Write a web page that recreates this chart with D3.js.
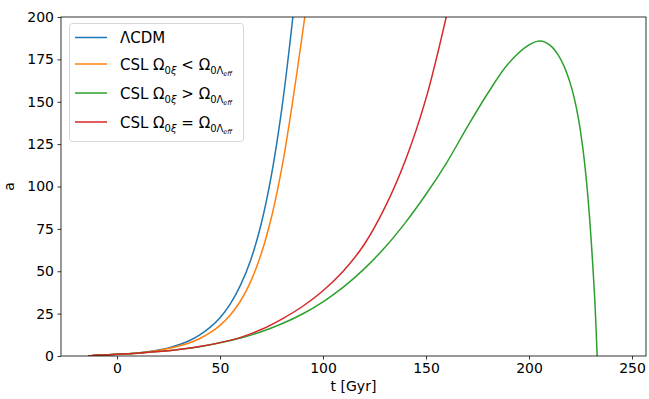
<!DOCTYPE html>
<html>
<head>
<meta charset="utf-8">
<script src="https://cdn.jsdelivr.net/npm/d3@7"></script>
<style>
    body { margin: 0; background: #fff; }
    svg { display: block; font-family: "DejaVu Sans", sans-serif; }
</style>
</head>
<body>
<div id="chart"></div>
<script>
// values (t in Gyr, a = scale factor)
var lcdmT = [-14, -13, -12, -10, -7, -4, 0, 5, 10, 15, 20, 25, 30, 35, 40, 45, 50, 55, 60, 65, 70, 75, 80, 85, 88];
var lcdmA = [0, 0.15, 0.24, 0.4, 0.6, 0.78, 1.0, 1.35, 1.8, 2.5, 3.5, 4.8, 6.6, 9.0, 12.3, 16.7, 22.6, 30.8, 42, 57, 78, 107, 146, 196, 232];

var lessT = [-14, -13, -12, -10, -7, -4, 0, 5, 10, 15, 20, 25, 30, 35, 40, 45, 50, 55, 60, 65, 70, 75, 80, 85, 90, 94];
var lessA = [0, 0.15, 0.24, 0.4, 0.6, 0.78, 1.0, 1.33, 1.75, 2.4, 3.3, 4.4, 5.85, 7.7, 10.2, 13.6, 18.1, 24.2, 32.6, 44.2, 60.3, 82, 111, 148, 190, 225];

var moreT = [-14, -13, -12, -10, -7, -4, 0, 5, 10, 20, 30, 40, 50, 60, 70, 80, 90, 100, 110, 120, 130, 140, 150, 160, 170, 180, 190, 200, 205,
             208, 211, 214, 217, 220, 222, 224, 226, 228, 229.5, 231, 232, 232.6, 233.1];
var moreA = [0, 0.15, 0.24, 0.4, 0.6, 0.78, 1.0, 1.3, 1.65, 2.6, 3.9, 5.5, 7.8, 10.6, 14.3, 19.0, 24.8, 32.0, 40.8, 51.4, 64.0, 78.7, 95.4, 114, 135, 155, 172.5, 183.5, 185.8,
             185, 182.5, 178, 171, 161, 152, 140, 124, 102, 80, 53, 32, 15, 0];

var equalT = [-14, -13, -12, -10, -7, -4, 0, 5, 10, 20, 30, 40, 50, 60, 70, 80, 90, 100, 110, 120, 130, 140, 150, 160, 163];
var equalA = [0, 0.15, 0.24, 0.4, 0.6, 0.78, 1.0, 1.3, 1.65, 2.6, 3.9, 5.6, 7.9, 11, 15.6, 21.8, 29.2, 38.5, 50.3, 65.8, 87.5, 115.5, 152, 201, 218];

var xTicks = [0, 50, 100, 150, 200, 250];
var yTicks = [0, 25, 50, 75, 100, 125, 150, 175, 200];
var colors = ["#1f77b4", "#ff7f0e", "#2ca02c", "#d62728"];

var width = 649,
    height = 399,
    plotLeft = 61,
    plotRight = 646,
    plotTop = 17,
    plotBottom = 356;

var x = d3.scaleLinear().domain([-27.2, 256.8]).range([plotLeft, plotRight]);
var y = d3.scaleLinear().domain([0, 200]).range([plotBottom, plotTop]);

var svg = d3.select("#chart").append("svg")
    .attr("width", width)
    .attr("height", height);

svg.append("defs").append("clipPath").attr("id", "plotclip")
    .append("rect")
    .attr("x", plotLeft).attr("y", plotTop)
    .attr("width", plotRight - plotLeft).attr("height", plotBottom - plotTop);

function pairs(ts, as) {
    return ts.map(function (t, i) { return [t, as[i]]; });
}

var series = [
    pairs(lcdmT, lcdmA),
    pairs(lessT, lessA),
    pairs(moreT, moreA),
    pairs(equalT, equalA)
];

var line = d3.line()
    .x(function (d) { return x(d[0]); })
    .y(function (d) { return y(d[1]); })
    .curve(d3.curveCatmullRom.alpha(0.5));

var plot = svg.append("g").attr("clip-path", "url(#plotclip)");
series.forEach(function (s, i) {
    plot.append("path")
        .attr("d", line(s))
        .attr("fill", "none")
        .attr("stroke", colors[i])
        .attr("stroke-width", 1.5);
});

// axes
var xAxis = svg.append("g")
    .attr("transform", "translate(0," + plotBottom + ")")
    .call(d3.axisBottom(x).tickValues(xTicks).tickSize(3.5).tickPadding(3.5));
var yAxis = svg.append("g")
    .attr("transform", "translate(" + plotLeft + ",0)")
    .call(d3.axisLeft(y).tickValues(yTicks).tickSize(3.5).tickPadding(3.5));

[xAxis, yAxis].forEach(function (ax) {
    ax.select(".domain").remove();
    ax.selectAll("line").attr("stroke", "#000").attr("stroke-width", 0.8);
    ax.selectAll("text")
        .attr("fill", "#000")
        .style("font-family", "'DejaVu Sans', sans-serif")
        .style("font-size", "14px");
});

svg.append("rect")
    .attr("x", plotLeft).attr("y", plotTop)
    .attr("width", plotRight - plotLeft).attr("height", plotBottom - plotTop)
    .attr("fill", "none")
    .attr("stroke", "#000")
    .attr("stroke-width", 0.8);

svg.append("text")
    .attr("x", (plotLeft + plotRight) / 2)
    .attr("y", 391)
    .attr("text-anchor", "middle")
    .style("font-size", "14px")
    .text("t [Gyr]");

svg.append("text")
    .attr("transform", "translate(14," + ((plotTop + plotBottom) / 2) + ") rotate(-90)")
    .attr("text-anchor", "middle")
    .style("font-size", "14px")
    .text("a");

// legend
var legend = svg.append("g");
legend.append("rect")
    .attr("x", 69.5).attr("y", 23.5)
    .attr("width", 174).attr("height", 118)
    .attr("rx", 3)
    .attr("fill", "#fff")
    .attr("fill-opacity", 0.8)
    .attr("stroke", "#d6d6d6");

var rowY = [37.5, 64, 93, 122];
var relations = ["<", ">", "="];

rowY.forEach(function (ry, i) {
    legend.append("line")
        .attr("x1", 75).attr("x2", 107)
        .attr("y1", ry).attr("y2", ry)
        .attr("stroke", colors[i])
        .attr("stroke-width", 1.5);

    var txt = legend.append("text")
        .attr("x", 120)
        .attr("y", ry + 5.5)
        .style("font-size", "15px");

    if (i === 0) {
        txt.text("ΛCDM");
        return;
    }
    txt.append("tspan").text("CSL Ω");
    txt.append("tspan").attr("dy", 4).style("font-size", "10px").text("0");
    txt.append("tspan").style("font-size", "10px").style("font-style", "italic").text("ξ");
    txt.append("tspan").attr("dy", -4).text(" " + relations[i - 1] + " Ω");
    txt.append("tspan").attr("dy", 4).style("font-size", "10px").text("0Λ");
    txt.append("tspan").attr("dy", 2.5).style("font-size", "6.5px").style("font-style", "italic").text("eff");
});
</script>
</body>
</html>
